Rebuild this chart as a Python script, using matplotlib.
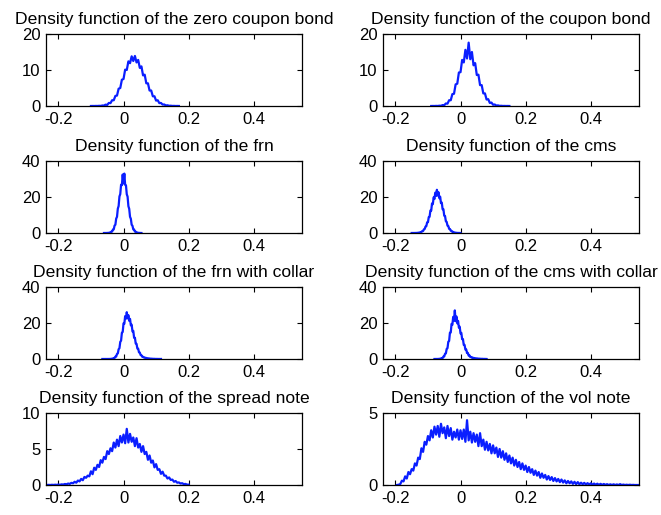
import matplotlib
matplotlib.use("Agg")
import matplotlib.pyplot as plt
import numpy as np

# Density estimates of the simulated price changes, one per product.
# Each curve is sampled on a regular grid: (first bin centre, bin width).

zcb_grid = (-0.100, 0.005)
zcb_density = [0.0, 0.01, 0.0, 0.02, 0.01, 0.05, 0.03, 0.14, 0.12, 0.38,
               0.3, 0.85, 0.8, 1.6, 1.6, 2.8, 2.9, 4.8, 5.0, 7.3,
               7.5, 10.1, 10.0, 12.4, 11.9, 13.8, 12.5, 13.9, 12.1, 12.8,
               10.6, 11.0, 8.5, 8.7, 6.3, 6.3, 4.3, 4.3, 2.7, 2.7,
               1.5, 1.6, 0.8, 0.85, 0.4, 0.42, 0.16, 0.2, 0.06, 0.08,
               0.02, 0.03, 0.0, 0.01, 0.0]

cb_grid = (-0.090, 0.005)
cb_density = [0.0, 0.01, 0.0, 0.03, 0.01, 0.08, 0.06, 0.25, 0.22, 0.7,
              0.65, 1.6, 1.6, 3.3, 3.4, 6.0, 6.2, 9.3, 9.4, 12.8,
              12.1, 15.6, 13.2, 17.6, 13.0, 15.0, 11.3, 11.9, 8.6, 8.7,
              5.8, 5.8, 3.5, 3.5, 1.8, 1.9, 0.85, 0.95, 0.35, 0.42,
              0.12, 0.17, 0.04, 0.06, 0.01, 0.02, 0.0, 0.01, 0.0]

frn_grid = (-0.060, 0.0025)
frn_density = [0.0, 0.01, 0.0, 0.02, 0.02, 0.08, 0.07, 0.25, 0.26, 0.75,
               0.8, 1.9, 2.0, 4.1, 4.6, 8.0, 9.0, 13.5, 15.0, 20.3,
               21.6, 26.8, 26.6, 32.5, 27.5, 33.0, 26.8, 26.5, 21.5, 20.2,
               14.9, 13.4, 9.0, 7.9, 4.6, 4.0, 2.0, 1.9, 0.8, 0.75,
               0.26, 0.25, 0.07, 0.08, 0.02, 0.02, 0.0]

cms_grid = (-0.150, 0.0025)
cms_density = [0.0, 0.01, 0.0, 0.02, 0.01, 0.04, 0.04, 0.1, 0.1, 0.24,
               0.25, 0.52, 0.55, 1.05, 1.1, 2.0, 2.2, 3.6, 3.8, 5.9,
               6.0, 8.8, 9.0, 12.5, 12.4, 16.4, 16.0, 19.8, 18.9, 22.4,
               20.6, 24.0, 20.8, 22.6, 19.3, 20.2, 16.6, 16.9, 13.2, 13.2,
               9.6, 9.4, 6.5, 6.2, 4.1, 3.9, 2.3, 2.2, 1.25, 1.2,
               0.6, 0.6, 0.26, 0.27, 0.11, 0.12, 0.04, 0.05, 0.01, 0.02,
               0.0]

frn_collar_grid = (-0.065, 0.0025)
frn_collar_density = [0.0, 0.0, 0.01, 0.0, 0.01, 0.0, 0.01, 0.01, 0.02, 0.02,
                      0.06, 0.07, 0.2, 0.2, 0.52, 0.55, 1.3, 1.35, 2.8, 3.1,
                      5.4, 6.0, 9.5, 10.2, 14.6, 15.0, 19.8, 19.6, 23.8, 22.4,
                      26.0, 22.6, 24.3, 21.2, 22.3, 18.7, 19.1, 15.3, 15.6, 11.8,
                      11.8, 8.6, 8.4, 5.8, 5.7, 3.7, 3.6, 2.2, 2.1, 1.25,
                      1.25, 0.8, 0.85, 0.5, 0.6, 0.35, 0.42, 0.24, 0.3, 0.15,
                      0.2, 0.1, 0.14, 0.06, 0.1, 0.03, 0.06, 0.02, 0.04, 0.01,
                      0.02, 0.0, 0.01]

cms_collar_grid = (-0.080, 0.0025)
cms_collar_density = [0.0, 0.01, 0.0, 0.02, 0.01, 0.06, 0.05, 0.2, 0.18, 0.55,
                      0.5, 1.35, 1.4, 2.9, 3.1, 5.6, 6.0, 9.6, 10.0, 14.6,
                      14.7, 19.5, 19.0, 23.4, 21.3, 27.0, 21.0, 23.6, 19.8, 21.2,
                      17.4, 18.0, 14.2, 14.5, 11.0, 11.0, 7.8, 7.8, 5.2, 5.3,
                      3.3, 3.4, 1.9, 2.0, 1.1, 1.15, 0.7, 0.8, 0.45, 0.55,
                      0.32, 0.4, 0.22, 0.3, 0.14, 0.2, 0.09, 0.14, 0.06, 0.1,
                      0.03, 0.06, 0.02, 0.03, 0.0]

spread_grid = (-0.235, 0.005)
spread_density = [0.0, 0.02, 0.0, 0.03, 0.01, 0.04, 0.02, 0.06, 0.03, 0.09,
                  0.06, 0.14, 0.1, 0.2, 0.15, 0.3, 0.24, 0.45, 0.32, 0.62,
                  0.5, 0.85, 0.66, 1.12, 1.0, 1.3, 1.2, 1.9, 1.5, 2.4,
                  2.1, 2.8, 2.5, 3.45, 3.1, 3.9, 3.6, 4.7, 4.3, 5.1,
                  4.7, 5.9, 5.2, 6.3, 5.4, 6.8, 5.9, 7.0, 5.8, 7.8,
                  5.9, 7.1, 6.0, 6.6, 5.4, 6.5, 5.2, 5.7, 4.6, 5.4,
                  4.3, 4.6, 3.5, 4.1, 3.1, 3.4, 2.45, 2.9, 2.1, 2.2,
                  1.55, 1.85, 1.3, 1.3, 0.9, 1.05, 0.7, 0.75, 0.45, 0.55,
                  0.32, 0.36, 0.2, 0.25, 0.12, 0.15, 0.06, 0.05]

vol_grid = (-0.195, 0.005)
vol_density = [0.0, 0.02, 0.06, 0.3, 0.25, 0.6, 0.45, 0.9, 0.75, 1.1,
               1.0, 1.5, 1.35, 1.9, 1.8, 2.55, 2.3, 3.0, 2.8, 3.4,
               3.1, 3.8, 3.3, 4.05, 3.5, 4.1, 3.35, 4.25, 3.6, 4.0,
               3.25, 4.1, 3.4, 3.95, 3.15, 3.7, 3.3, 3.85, 3.15, 3.8,
               3.2, 3.85, 3.0, 4.5, 3.1, 3.7, 2.95, 3.6, 3.0, 3.5,
               2.7, 3.6, 2.7, 3.15, 2.45, 3.0, 2.4, 2.85, 2.2, 2.75,
               2.2, 2.6, 1.95, 2.5, 1.9, 2.35, 1.75, 2.2, 1.6, 2.05,
               1.5, 1.9, 1.35, 1.75, 1.25, 1.6, 1.1, 1.5, 1.05, 1.35,
               0.9, 1.25, 0.85, 1.1, 0.7, 1.0, 0.65, 0.9, 0.5, 0.8,
               0.5, 0.7, 0.38, 0.62, 0.35, 0.55, 0.28, 0.48, 0.25, 0.42,
               0.2, 0.38, 0.17, 0.32, 0.12, 0.28, 0.12, 0.25, 0.08, 0.22,
               0.06, 0.2, 0.05, 0.16, 0.05, 0.15, 0.03, 0.13, 0.03, 0.12,
               0.02, 0.1, 0.02, 0.09, 0.01, 0.08, 0.01, 0.07, 0.01, 0.06,
               0.0, 0.05, 0.0, 0.05, 0.0, 0.04, 0.0, 0.06, 0.0, 0.03,
               0.0, 0.02, 0.0, 0.02, 0.0, 0.01, 0.0, 0.0, 0.0, 0.0]

titles = ["Density function of the zero coupon bond",
          "Density function of the coupon bond",
          "Density function of the frn",
          "Density function of the cms",
          "Density function of the frn with collar",
          "Density function of the cms with collar",
          "Density function of the spread note",
          "Density function of the vol note"]
grids = [zcb_grid, cb_grid, frn_grid, cms_grid,
         frn_collar_grid, cms_collar_grid, spread_grid, vol_grid]
densities = [zcb_density, cb_density, frn_density, cms_density,
             frn_collar_density, cms_collar_density, spread_density, vol_density]
ymax = [20, 20, 40, 40, 40, 40, 10, 5]
yticks = [[0, 10, 20], [0, 10, 20], [0, 20, 40], [0, 20, 40],
          [0, 20, 40], [0, 20, 40], [0, 5, 10], [0, 5]]
xticks = [-0.2, 0, 0.2, 0.4]
xlim = (-0.238, 0.548)

plt.rcParams['font.family'] = ['Liberation Sans', 'DejaVu Sans']

W, H = 661, 515
fig = plt.figure(figsize=(W / 100, H / 100), dpi=100)

col_left = [46, 383]
col_width = [256, 256]
row_top = [34, 161, 287, 413]
row_height = 72

for i in range(8):
    r, c = divmod(i, 2)
    ax = fig.add_axes([col_left[c] / W, 1 - (row_top[r] + row_height) / H,
                       col_width[c] / W, row_height / H])
    start, step = grids[i]
    y = np.array(densities[i])
    x = start + step * np.arange(len(y))
    ax.plot(x, y, color='#0a1eff', linewidth=1.6)
    ax.set_xlim(*xlim)
    ax.set_ylim(0, ymax[i])
    ax.set_xticks(xticks)
    ax.set_xticklabels(['-0.2', '0', '0.2', '0.4'])
    ax.set_yticks(yticks[i])
    ax.tick_params(direction='in', length=3.5, width=0.8, top=True, right=True,
                   labelsize=12, colors='black', pad=4)
    for s in ax.spines.values():
        s.set_linewidth(0.9)
    ax.set_title(titles[i], fontsize=12.6, pad=7)

fig.savefig('out.png', dpi=100)
